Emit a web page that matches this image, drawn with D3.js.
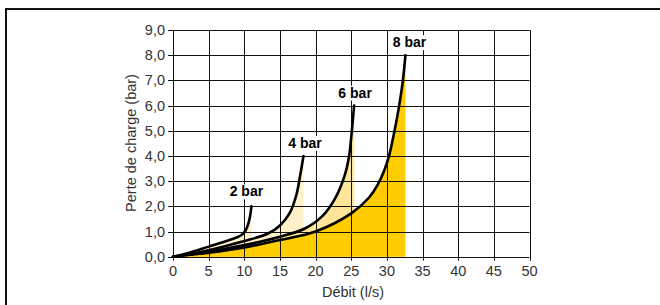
<!DOCTYPE html>
<html>
<head>
<meta charset="utf-8">
<script src="https://cdn.jsdelivr.net/npm/d3@7"></script>
<style>
  body { margin: 0; background: #fff; }
  svg { display: block; font-family: "Liberation Sans", Arial, sans-serif; }
</style>
</head>
<body>
<div id="chart"></div>
<script>
// curve data (debit l/s -> perte de charge bar)
var series_names = ['2 bar', '4 bar', '6 bar', '8 bar'];

var flow_2bar = [0, 2.5, 5, 7.5, 9, 9.7, 10.2, 10.55, 10.8, 11.0];
var loss_2bar = [0, 0.18, 0.4, 0.62, 0.77, 0.88, 1.05, 1.3, 1.6, 2.0];

var flow_4bar = [0, 5, 10, 13.4, 15, 16.4, 17.3, 17.85, 18.3];
var loss_4bar = [0, 0.26, 0.62, 0.93, 1.24, 1.75, 2.45, 3.25, 4.0];

var flow_6bar = [0, 5, 10, 15, 18.5, 20.9, 22.8, 24.1, 24.7, 25.05, 25.4];
var loss_6bar = [0, 0.2, 0.46, 0.79, 1.12, 1.6, 2.35, 3.25, 4.0, 4.9, 6.0];

var flow_8bar = [0, 5, 10, 15, 20, 25, 27.5, 28.7, 29.6, 30.3, 31.0, 31.6, 32.2, 32.6];
var loss_8bar = [0, 0.16, 0.37, 0.66, 1.0, 1.72, 2.35, 2.85, 3.4, 4.0, 4.9, 5.8, 6.9, 8.0];

var x_ticks = [0, 5, 10, 15, 20, 25, 30, 35, 40, 45, 50];
var y_ticks = [0, 1, 2, 3, 4, 5, 6, 7, 8, 9];

var x_label = 'Débit (l/s)';
var y_label = 'Perte de charge (bar)';

var width = 660, height = 305;

var svg = d3.select('#chart').append('svg')
  .attr('width', width)
  .attr('height', height);

var x = d3.scaleLinear().domain([0, 50]).range([173, 529.5]);
var y = d3.scaleLinear().domain([0, 9]).range([256.7, 30]);

// outer frame (runs off the right / bottom edge)
svg.append('rect')
  .attr('x', 6).attr('y', 9)
  .attr('width', 700).attr('height', 400)
  .attr('fill', 'none')
  .attr('stroke', '#111')
  .attr('stroke-width', 2);

function toPoints(xs, ys) {
  return xs.map(function (d, i) { return [d, ys[i]]; });
}

// label offsets from the curve end, px
var series = [
  { name: series_names[0], pts: toPoints(flow_2bar, loss_2bar), fill: '#fff1c9', dx: -5, dy: -10 },
  { name: series_names[1], pts: toPoints(flow_4bar, loss_4bar), fill: '#fff1c9', dx: 1.5, dy: -8 },
  { name: series_names[2], pts: toPoints(flow_6bar, loss_6bar), fill: '#ffe597', dx: 1, dy: -8 },
  { name: series_names[3], pts: toPoints(flow_8bar, loss_8bar), fill: '#ffcc00', dx: 4, dy: -8 }
];

var curve = d3.curveCatmullRom.alpha(0.5);

var area = d3.area()
  .x(function (d) { return x(d[0]); })
  .y0(y(0))
  .y1(function (d) { return y(d[1]); })
  .curve(curve);

var line = d3.line()
  .x(function (d) { return x(d[0]); })
  .y(function (d) { return y(d[1]); })
  .curve(curve);

// fills first, darkest last
svg.append('g').selectAll('path')
  .data(series)
  .enter()
  .append('path')
  .attr('d', function (d) { return area(d.pts); })
  .attr('fill', function (d) { return d.fill; });

// grid
var grid = svg.append('g').attr('stroke', '#111').attr('stroke-width', 1);
grid.selectAll('line.v')
  .data(x_ticks)
  .enter()
  .append('line')
  .attr('class', 'v')
  .attr('x1', function (d) { return Math.round(x(d)) + 0.5; })
  .attr('x2', function (d) { return Math.round(x(d)) + 0.5; })
  .attr('y1', y(9))
  .attr('y2', y(0) + 4);
grid.selectAll('line.h')
  .data(y_ticks)
  .enter()
  .append('line')
  .attr('class', 'h')
  .attr('y1', function (d) { return Math.round(y(d)) + 0.5; })
  .attr('y2', function (d) { return Math.round(y(d)) + 0.5; })
  .attr('x1', x(0) - 5)
  .attr('x2', x(50));

// curves
svg.append('g').selectAll('path')
  .data(series)
  .enter()
  .append('path')
  .attr('d', function (d) { return line(d.pts); })
  .attr('fill', 'none')
  .attr('stroke', '#000')
  .attr('stroke-width', 2.6)
  .attr('stroke-linecap', 'round');

// tick labels
var fmt = function (v) { return v.toFixed(1).replace('.', ','); };

svg.append('g').selectAll('text')
  .data(y_ticks)
  .enter()
  .append('text')
  .attr('x', 165)
  .attr('y', function (d) { return y(d) + 5; })
  .attr('text-anchor', 'end')
  .attr('font-size', 14.5)
  .attr('fill', '#333')
  .text(fmt);

svg.append('g').selectAll('text')
  .data(x_ticks)
  .enter()
  .append('text')
  .attr('x', function (d) { return x(d); })
  .attr('y', 276)
  .attr('text-anchor', 'middle')
  .attr('font-size', 14.5)
  .attr('fill', '#333')
  .text(function (d) { return d; });

svg.append('text')
  .attr('x', 353)
  .attr('y', 297)
  .attr('text-anchor', 'middle')
  .attr('font-size', 14.5)
  .attr('fill', '#333')
  .text(x_label);

svg.append('text')
  .attr('transform', 'translate(136,143) rotate(-90)')
  .attr('text-anchor', 'middle')
  .attr('font-size', 14.5)
  .attr('fill', '#333')
  .text(y_label);

// curve labels with white backing, placed above each curve end
var label_g = svg.append('g').selectAll('g')
  .data(series)
  .enter()
  .append('g')
  .attr('transform', function (d) {
    var last = d.pts[d.pts.length - 1];
    return 'translate(' + (x(last[0]) + d.dx) + ',' + (y(last[1]) + d.dy) + ')';
  });

label_g.append('rect')
  .attr('x', -19).attr('y', -12)
  .attr('width', 38).attr('height', 15)
  .attr('fill', '#fff');

label_g.append('text')
  .attr('text-anchor', 'middle')
  .attr('font-size', 14)
  .attr('font-weight', 'bold')
  .attr('fill', '#000')
  .text(function (d) { return d.name; });
</script>
</body>
</html>
